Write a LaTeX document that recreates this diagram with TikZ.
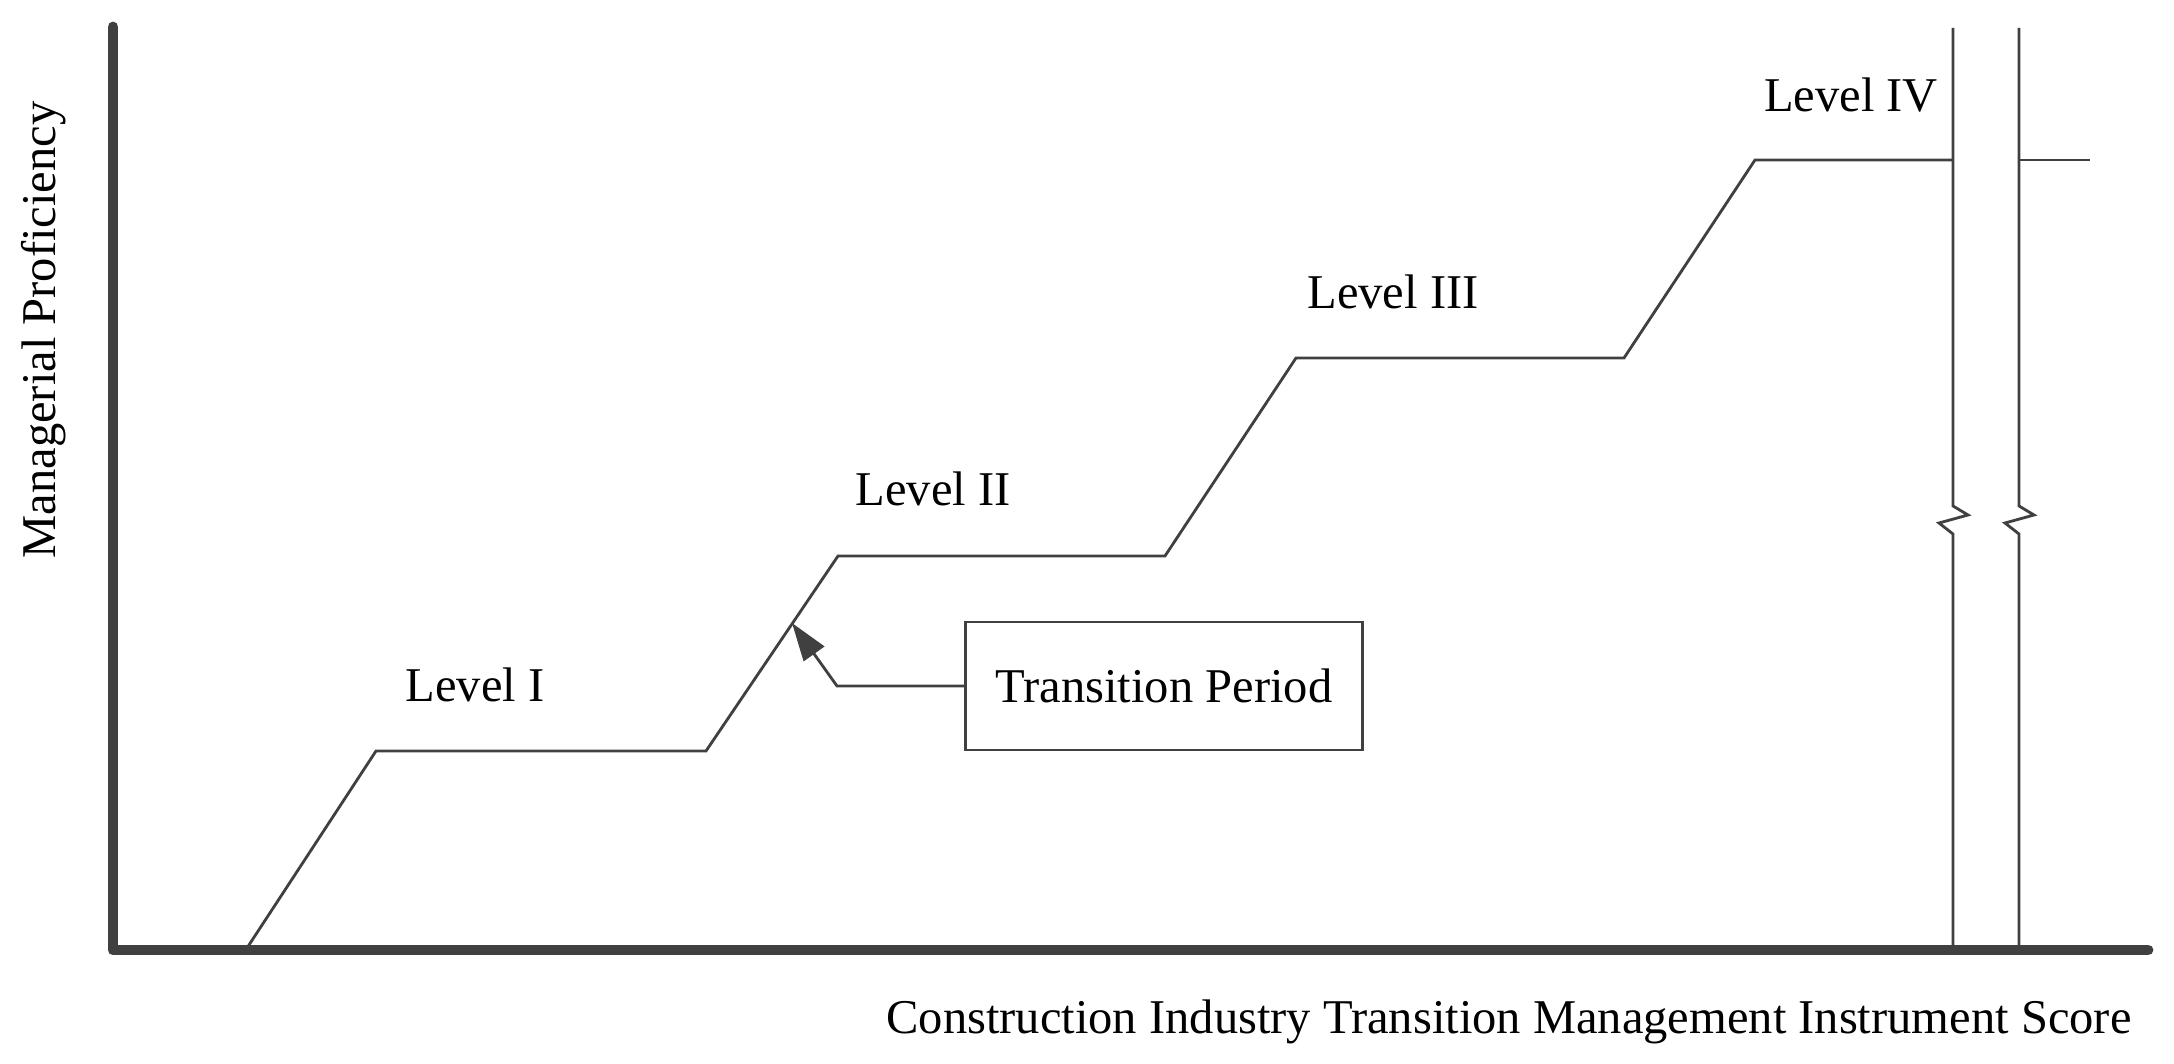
\documentclass[tikz,border=0pt]{standalone}
\usepackage{fontspec}
\setmainfont{Liberation Serif}
\usepackage{xcolor}
\usetikzlibrary{positioning, arrows.meta, calc}
\definecolor{linegray}{HTML}{404040}

\begin{document}
\begin{tikzpicture}[
    x=0.01cm, y=-0.01cm,
    axis/.style={draw=linegray, line width=3.1pt, line cap=round, line join=round},
    curve/.style={draw=linegray, line width=0.8pt},
    lbl/.style={font=\fontsize{13.8}{16}\selectfont, anchor=base, inner sep=0pt},
    period/.style={rectangle, draw=linegray, line width=0.8pt, minimum width=3.96cm, minimum height=1.28cm, font=\fontsize{13.8}{16}\selectfont},
    arrow/.style={-{Triangle[length=3.8mm, width=2.5mm]}, draw=linegray, line width=0.8pt}
]
\useasboundingbox (0,0) rectangle (2174,1064);
% axes
\coordinate (ytop) at (113,27);
\coordinate (orig) at (113,950);
\coordinate (xend) at (2148,950);
\draw[axis] (ytop) -- (orig) -- (xend);
% staircase
\coordinate (p0) at (247,948);
\coordinate (p1) at (376,751);
\coordinate (p2) at (706,751);
\coordinate (p3) at (838,556);
\coordinate (p4) at (1165,556);
\coordinate (p5) at (1296,358);
\coordinate (p6) at (1624,358);
\coordinate (p7) at (1755,160);
\coordinate (p8) at (1953,160);
\coordinate (p9) at (2019,160);
\coordinate (p10) at (2090,160);
\draw[curve] (p0) -- (p1) -- (p2) -- (p3) -- (p4) -- (p5) -- (p6) -- (p7) -- (p8);
\draw[curve] (p9) -- (p10);
% axis break
\foreach \bx in {1953,2019}
  \draw[curve] (\bx,28) -- (\bx,506) -- ++(15,9) -- ++(-29,8) -- ++(14,11) -- (\bx,950);
% labels
\node[lbl] (lvlI) at (475,702) {Level I};
\node[lbl] (lvlII) at (933,506) {Level II};
\node[lbl] (lvlIII) at (1393,309) {Level III};
\node[lbl] (lvlIV) at (1851,112) {Level IV};
\node[lbl] (xlabel) at (1509,1034) {Construction Industry Transition Management Instrument Score};
\node[lbl, rotate=90] (ylabel) at (55,330) {Managerial Proficiency};
% transition period
\node[period] (trans) at (1164,686) {Transition Period};
\coordinate (tip) at (792,623);
\draw[arrow] (trans.west) -- (trans.west -| 837,0) -- (tip);
\end{tikzpicture}
\end{document}
